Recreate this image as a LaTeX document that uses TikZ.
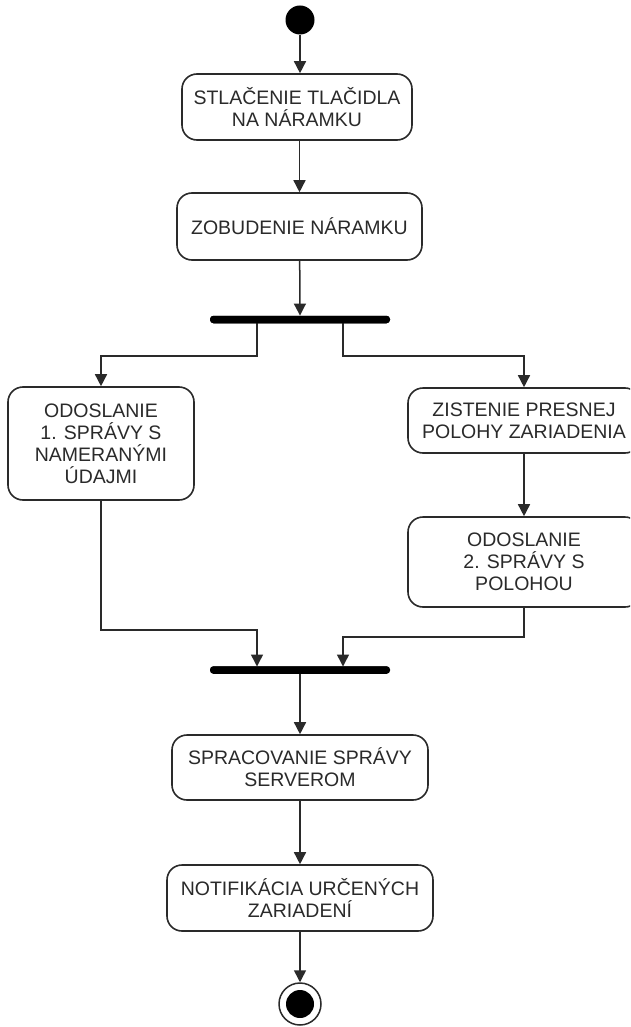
\documentclass[tikz,border=0pt]{standalone}
\usepackage{fontspec}
\setmainfont{Liberation Sans}
\usetikzlibrary{arrows.meta,positioning,calc}

\definecolor{ink}{HTML}{2A2A2A}

\tikzset{
  action/.style={draw=ink, line width=1.6pt, rounded corners=15pt, fill=white,
    align=center, inner sep=0pt, text=ink,
    font=\fontsize{19.5}{22}\selectfont},
  syncbar/.style={fill=black, draw=none, rounded corners=3.5pt,
    minimum width=180pt, minimum height=7.5pt, inner sep=0pt},
  flow/.style={draw=ink, line width=1.5pt,
    -{Triangle[length=12pt,width=12pt]}},
}

\begin{document}
\begin{tikzpicture}[x=1pt, y=-1pt]
  \useasboundingbox (0,0) rectangle (630,1027);
  \clip (0,0) rectangle (630,1027);
  \fill[white] (0,0) rectangle (630,1027);

  % start and activities
  \node[circle, fill=black, minimum size=29pt, inner sep=0pt] (start) at (300,20) {};
  \node[action, minimum width=230pt, minimum height=66pt] (press) at (297,107)
    {STLAČENIE TLAČIDLA\\NA NÁRAMKU};
  \node[action, minimum width=245pt, minimum height=67pt] (wake) at (299.5,226.5)
    {ZOBUDENIE NÁRAMKU};

  % fork
  \node[syncbar] (fork) at (300,319.5) {};
  \coordinate (forkL) at (257,323);
  \coordinate (forkR) at (343,323);

  % parallel branches
  \node[action, minimum width=186pt, minimum height=113pt] (send1) at (101,443.5)
    {ODOSLANIE\\1. SPRÁVY S\\NAMERANÝMI\\ÚDAJMI};
  \node[action, minimum width=232pt, minimum height=65pt] (locate) at (524,420.5)
    {ZISTENIE PRESNEJ\\POLOHY ZARIADENIA};
  \node[action, minimum width=232pt, minimum height=90pt] (send2) at (524,562)
    {ODOSLANIE\\2. SPRÁVY S\\POLOHOU};

  % join
  \node[syncbar] (join) at (300,670) {};
  \coordinate (joinL) at (257,666.5);
  \coordinate (joinR) at (343,666.5);

  \node[action, minimum width=256pt, minimum height=65pt] (process) at (300,767.5)
    {SPRACOVANIE SPRÁVY\\SERVEROM};
  \node[action, minimum width=266pt, minimum height=66pt] (notify) at (300,898)
    {NOTIFIKÁCIA URČENÝCH\\ZARIADENÍ};

  % final state
  \node[circle, draw=ink, line width=1.5pt, minimum size=42pt, inner sep=0pt] (final) at (300,1004) {};
  \node[circle, fill=black, minimum size=28pt, inner sep=0pt] at (final) {};

  % control flow
  \draw[flow] (start) -- (start |- press.north);
  \draw[flow] (press.south -| wake.north) -- (wake.north);
  \draw[flow] (wake) -- (fork.north);
  \draw[flow] (forkL) -- (forkL |- 0,356) -| (send1.north);
  \draw[flow] (forkR) -- (forkR |- 0,356) -| (locate.north);
  \draw[flow] (locate) -- (send2.north);
  \draw[flow] (send1.south) -- (send1.south |- 0,630) -| (joinL);
  \draw[flow] (send2.south) -- (send2.south |- 0,637) -| (joinR);
  \draw[flow] (join) -- (process.north);
  \draw[flow] (process) -- (notify.north);
  \draw[flow] (notify) -- (final.north);

  % bars on top of the line ends
  \node[syncbar] at (fork) {};
  \node[syncbar] at (join) {};
\end{tikzpicture}
\end{document}
